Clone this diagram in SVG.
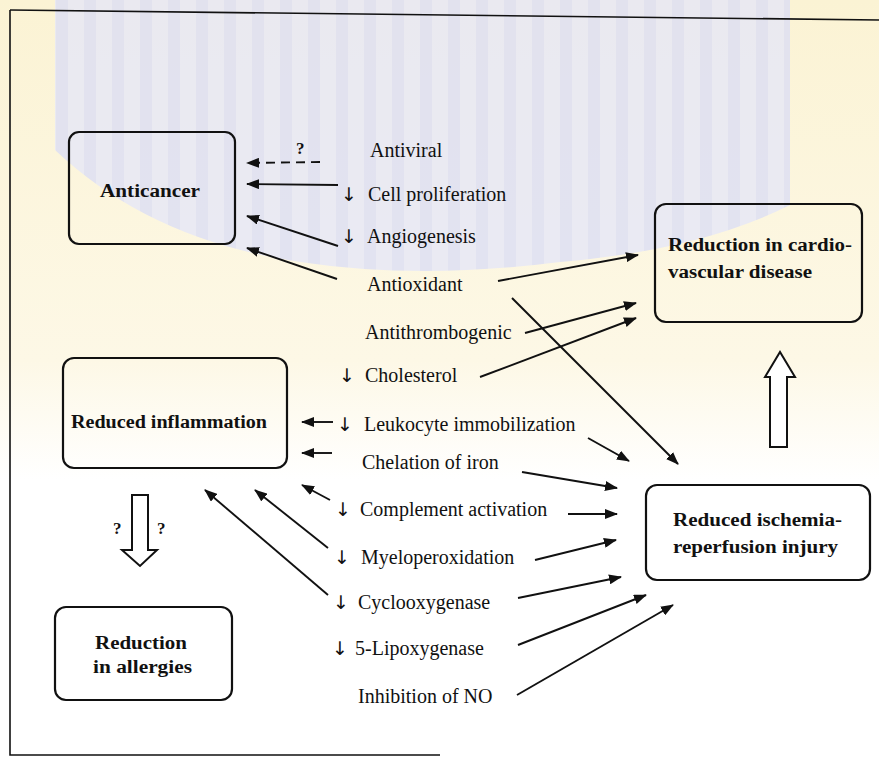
<svg xmlns="http://www.w3.org/2000/svg" width="879" height="761" viewBox="0 0 879 761">
<style>
.t{font-family:"Liberation Serif","Times New Roman",serif;font-size:20px;fill:#111}
.ar{font-family:"DejaVu Sans","Liberation Sans",sans-serif;font-size:19px;fill:#111}
.b{font-family:"Liberation Serif","Times New Roman",serif;font-size:18px;font-weight:bold;fill:#111}
.q{font-family:"Liberation Serif","Times New Roman",serif;font-size:17px;font-weight:bold;fill:#111}
.box{fill:none;stroke:#111;stroke-width:2.2}
.c{fill:none;stroke:#111;stroke-width:1.9;marker-end:url(#ah)}
.hol{fill:#fff;stroke:#111;stroke-width:2}
.fr{fill:none;stroke:#111;stroke-width:1.6}
</style>
<defs>
<marker id="ah" viewBox="0 0 13 10" refX="12" refY="5" markerWidth="13" markerHeight="10" markerUnits="userSpaceOnUse" orient="auto">
<path d="M0,0 L13,5 L0,10 z" fill="#111"/>
</marker>
<linearGradient id="cream" x1="0" y1="0" x2="0" y2="1">
<stop offset="0" stop-color="#fbf3d4"/>
<stop offset="0.75" stop-color="#fdf8e6"/>
<stop offset="1" stop-color="#ffffff"/>
</linearGradient>
<pattern id="stripes" width="28" height="40" patternUnits="userSpaceOnUse">
<rect width="28" height="40" fill="#e4e6f9"/>
<rect x="0" width="12" height="40" fill="#d9dcf6"/>
</pattern>
</defs>
<g id="background">
<rect width="879" height="761" fill="#ffffff"/>
<rect width="879" height="480" fill="url(#cream)"/>
<path d="M55 0 L790 0 L790 205 Q700 250 560 262 Q420 280 300 262 Q150 240 55 150 Z" fill="url(#stripes)" opacity="0.75"/>
</g>
<g id="frame">
<path class="fr" d="M10 10 L879 20"/>
<path class="fr" d="M10 10 L10 755 L440 755"/>
</g>
<g id="anticancer">
<rect class="box" x="69" y="132" width="166" height="112" rx="10"/>
<text class="b" x="100" y="197" textLength="100" lengthAdjust="spacingAndGlyphs">Anticancer</text>
</g>
<g id="cardio">
<rect class="box" x="655" y="204" width="207" height="118" rx="11"/>
<text class="b" x="668" y="251" textLength="184" lengthAdjust="spacingAndGlyphs">Reduction in cardio-</text>
<text class="b" x="668" y="278" textLength="144" lengthAdjust="spacingAndGlyphs">vascular disease</text>
</g>
<g id="inflammation">
<rect class="box" x="63" y="358" width="224" height="110" rx="11"/>
<text class="b" x="71" y="428" textLength="196" lengthAdjust="spacingAndGlyphs">Reduced inflammation</text>
</g>
<g id="ischemia">
<rect class="box" x="646" y="485" width="224" height="95" rx="11"/>
<text class="b" x="673" y="526" textLength="169" lengthAdjust="spacingAndGlyphs">Reduced ischemia-</text>
<text class="b" x="673" y="553" textLength="165" lengthAdjust="spacingAndGlyphs">reperfusion injury</text>
</g>
<g id="allergies">
<rect class="box" x="55" y="607" width="177" height="93" rx="11"/>
<text class="b" x="95" y="649" textLength="92" lengthAdjust="spacingAndGlyphs">Reduction</text>
<text class="b" x="93" y="673" textLength="99" lengthAdjust="spacingAndGlyphs">in allergies</text>
</g>
<g id="labels">
<text class="t" x="370" y="157">Antiviral</text>
<text class="t" y="201"><tspan class="ar" x="341">↓</tspan><tspan x="368">Cell proliferation</tspan></text>
<text class="t" y="243"><tspan class="ar" x="341">↓</tspan><tspan x="367">Angiogenesis</tspan></text>
<text class="t" x="367" y="291">Antioxidant</text>
<text class="t" x="365" y="339">Antithrombogenic</text>
<text class="t" y="382"><tspan class="ar" x="339">↓</tspan><tspan x="365">Cholesterol</tspan></text>
<text class="t" y="431"><tspan class="ar" x="337">↓</tspan><tspan x="364">Leukocyte immobilization</tspan></text>
<text class="t" x="362" y="469">Chelation of iron</text>
<text class="t" y="516"><tspan class="ar" x="335">↓</tspan><tspan x="360">Complement activation</tspan></text>
<text class="t" y="564"><tspan class="ar" x="334">↓</tspan><tspan x="361">Myeloperoxidation</tspan></text>
<text class="t" y="609"><tspan class="ar" x="333">↓</tspan><tspan x="358">Cyclooxygenase</tspan></text>
<text class="t" y="655"><tspan class="ar" x="332">↓</tspan><tspan x="355">5-Lipoxygenase</tspan></text>
<text class="t" x="358" y="703">Inhibition of NO</text>
<text class="q" x="296" y="154">?</text>
<text class="q" x="113" y="534">?</text>
<text class="q" x="157" y="534">?</text>
</g>
<g id="connectors">
<path class="c" d="M320 162 L247 163" stroke-dasharray="9 6"/>
<path class="c" d="M338 185 L247 184"/>
<path class="c" d="M338 246 L247 216"/>
<path class="c" d="M337 279 L247 248"/>
<path class="c" d="M498 281 L638 255"/>
<path class="c" d="M512 298 L678 464"/>
<path class="c" d="M525 333 L636 303"/>
<path class="c" d="M480 377 L636 318"/>
<path class="c" d="M333 422 L302 422"/>
<path class="c" d="M332 453 L302 453"/>
<path class="c" d="M588 438 L629 461"/>
<path class="c" d="M522 472 L617 488"/>
<path class="c" d="M330 500 L302 485"/>
<path class="c" d="M328 548 L255 490"/>
<path class="c" d="M328 595 L205 490"/>
<path class="c" d="M568 514 L617 514"/>
<path class="c" d="M535 560 L616 540"/>
<path class="c" d="M518 598 L621 577"/>
<path class="c" d="M518 645 L646 595"/>
<path class="c" d="M517 695 L673 605"/>
<path class="hol" d="M770 447 L770 377 L765 377 L780 352 L795 377 L787 377 L787 447 Z"/>
<path class="hol" d="M132 495 L148 495 L148 550 L157 550 L140 566 L122 550 L132 550 Z"/>
</g>
</svg>
